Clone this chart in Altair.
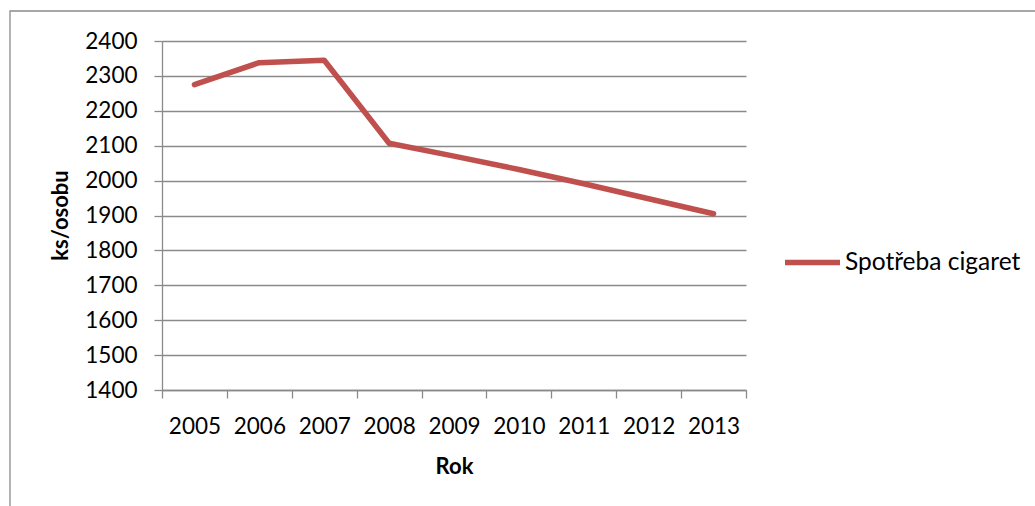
import altair as alt
import pandas as pd

# Annual cigarette consumption per person
years = ["2005", "2006", "2007", "2008", "2009", "2010", "2011", "2012", "2013"]
consumption = [2275, 2338, 2345, 2107, 2070, 2032, 1991, 1948, 1905]
series_name = "Spotřeba cigaret"
y_ticks = [1400, 1500, 1600, 1700, 1800, 1900, 2000, 2100, 2200, 2300, 2400]

FONT = "Lato"
GRAY = "#8a8a8a"
RED = "#C0504D"

df = pd.DataFrame({"Rok": years, "ks": consumption, "serie": series_name})

x_enc = alt.X(
    "Rok:O",
    sort=years,
    scale=alt.Scale(type="band", paddingInner=0, paddingOuter=0),
    axis=alt.Axis(
        title="Rok",
        tickBand="extent",
        labelAngle=0,
        tickSize=8,
        tickColor=GRAY,
        tickWidth=1.3,
        domainColor=GRAY,
        domainWidth=1.3,
        labelFont=FONT,
        labelFontSize=22.5,
        labelColor="#000000",
        labelPadding=17,
        titleFont=FONT,
        titleFontSize=22,
        titleFontWeight="bold",
        titleColor="#000000",
        titleBaseline="alphabetic",
        titleY=83,
        grid=False,
    ),
)

y_enc = alt.Y(
    "ks:Q",
    scale=alt.Scale(domain=[1400, 2400], nice=False, zero=False),
    axis=alt.Axis(
        title="ks/osobu",
        values=y_ticks,
        format="d",
        tickSize=8,
        tickColor=GRAY,
        tickWidth=1.3,
        domainColor=GRAY,
        domainWidth=1.3,
        grid=True,
        gridColor=GRAY,
        gridWidth=1.3,
        labelFont=FONT,
        labelFontSize=22.5,
        labelColor="#000000",
        labelPadding=17,
        titleFont=FONT,
        titleFontSize=22,
        titleFontWeight="bold",
        titleColor="#000000",
        titleBaseline="middle",
        titleX=-102,
        titleY=174,
        titleAngle=270,
    ),
)

line = alt.Chart(df).mark_line(strokeWidth=5.5, strokeCap="round", strokeJoin="round").encode(
    x=x_enc,
    y=y_enc,
    color=alt.Color(
        "serie:N",
        scale=alt.Scale(domain=[series_name], range=[RED]),
        legend=alt.Legend(
            title=None,
            orient="none",
            legendX=620,
            legendY=191,
            symbolType="stroke",
            symbolSize=3025,
            symbolStrokeWidth=5.5,
            labelFont=FONT,
            labelFontSize=24.5,
            labelColor="#000000",
            labelOffset=2,
            labelLimit=400,
            padding=0,
        ),
    ),
)

# outer chart frame
frame = alt.Chart(pd.DataFrame({"k": [0]})).mark_rect(
    fillOpacity=0, stroke=GRAY, strokeWidth=1.3
).encode(
    x=alt.value(-152), y=alt.value(-30), x2=alt.value(950), y2=alt.value(520)
)

chart = alt.layer(frame, line).properties(
    width=584,
    height=349,
    autosize=alt.AutoSizeParams(type="none"),
    padding={"left": 162, "top": 41, "right": 289, "bottom": 116},
    background="white",
).configure_view(stroke=None)

chart.save("out.html", embed_options={"renderer": "svg", "actions": False})
